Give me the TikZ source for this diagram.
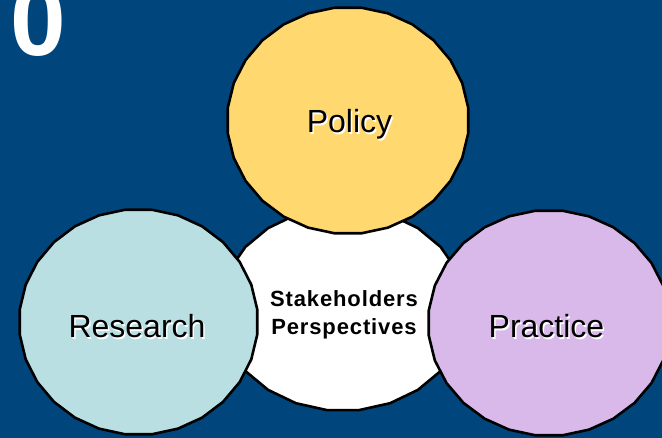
\documentclass[tikz,border=0pt]{standalone}
\usepackage{fontspec}
\setmainfont{Liberation Sans}
\newfontfamily\boldspaced[LetterSpace=4]{Liberation Sans Bold}
\definecolor{bgblue}{RGB}{0,70,125}
\definecolor{policyc}{RGB}{255,217,112}
\definecolor{researchc}{RGB}{185,223,227}
\definecolor{practicec}{RGB}{216,185,234}
\newcommand\drawblob[6]{%
  % cx, cy, rx, ry, segments, fill
  \pgfmathsetmacro\blobstep{360/#5}%
  \pgfmathsetmacro\blobphase{90+180/#5}%
  \pgfmathsetmacro\blobend{\blobphase+360}%
  \draw[blobline, fill=#6] plot[samples=#5+1, domain=\blobphase:\blobend, variable=\t]
    ({#1+#3*cos(\t)}, {#2+#4*sin(\t)}) -- cycle;}
\tikzset{
  blobline/.style={line width=2.6pt, line join=round, draw=black},
  biglabel/.style={anchor=base, inner sep=0pt, font=\fontsize{32}{32}\selectfont, text=black},
  shadowlabel/.style={anchor=base, inner sep=0pt, font=\fontsize{32}{32}\selectfont, text=white},
  centerlabel/.style={anchor=base, inner sep=0pt, font=\fontsize{22}{22}\boldspaced, text=black},
}
\begin{document}
\begin{tikzpicture}[x=1pt, y=-1pt]
  \fill[bgblue] (0,0) rectangle (662,438);
  \useasboundingbox (0,0) rectangle (662,438);
  % big zero at top-left
  \node[anchor=base west, inner sep=0pt, text=white, font=\fontsize{100}{100}\bfseries] (zero) at (10,56) {0};
  % shapes
  \drawblob{343}{309}{123}{102}{24}{white}
  \drawblob{348}{120.5}{121}{113.5}{28}{policyc}
  \drawblob{138.5}{322}{119.5}{113}{28}{researchc}
  \drawblob{549}{323}{121}{113}{28}{practicec}
  % labels with light shadow
  \node[shadowlabel] at (351,134.5) {Policy};
  \node[biglabel] (policy) at (349.5,133) {Policy};
  \node[shadowlabel] at (138.5,339.5) {Research};
  \node[biglabel] (research) at (137,338) {Research};
  \node[shadowlabel] at (548,339.5) {Practice};
  \node[biglabel] (practice) at (546.5,338) {Practice};
  \node[centerlabel] (stake) at (344,307) {Stakeholders};
  \node[centerlabel] (persp) at (344,335) {Perspectives};
\end{tikzpicture}
\end{document}
